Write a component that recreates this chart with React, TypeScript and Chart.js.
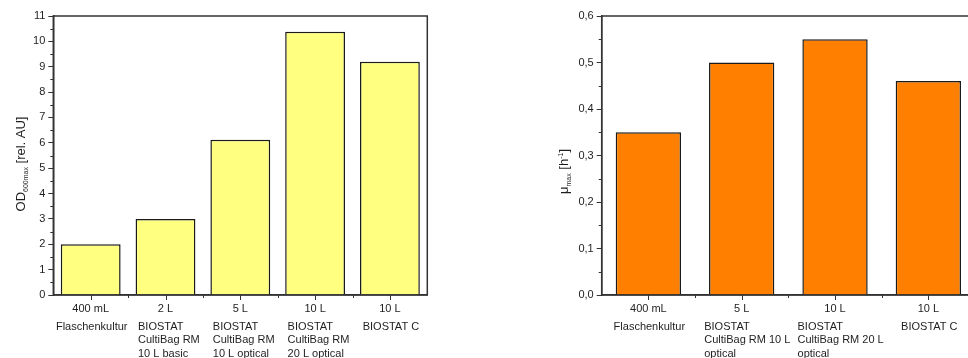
import React, { useEffect, useRef } from "react";
import { Chart, registerables } from "chart.js";

Chart.register(...registerables);

// ---------- data ----------
const leftVolumes = ["400 mL", "2 L", "5 L", "10 L", "10 L"];
const leftSystems = [
  ["Flaschenkultur"],
  ["BIOSTAT", "CultiBag RM", "10 L basic"],
  ["BIOSTAT", "CultiBag RM", "10 L optical"],
  ["BIOSTAT", "CultiBag RM", "20 L optical"],
  ["BIOSTAT C"],
];
const leftOD = [2.0, 3.0, 6.12, 10.38, 9.2];
const leftYMin = 0;
const leftYMax = 11;
const leftYStep = 1;
const leftTitle = [
  { text: "OD", size: 13, shift: 0 },
  { text: "600max", size: 7, shift: 3 },
  { text: " [rel. AU]", size: 13, shift: 0 },
];

const rightVolumes = ["400 mL", "5 L", "10 L", "10 L"];
const rightSystems = [
  ["Flaschenkultur"],
  ["BIOSTAT", "CultiBag RM 10 L", "optical"],
  ["BIOSTAT", "CultiBag RM 20 L", "optical"],
  ["BIOSTAT C"],
];
const rightMu = [0.35, 0.5, 0.55, 0.46];
const rightYMin = 0;
const rightYMax = 0.6;
const rightYStep = 0.1;
const rightTitle = [
  { text: "μ", size: 13, shift: 0 },
  { text: "max", size: 7, shift: 3 },
  { text: " [h", size: 13, shift: 0 },
  { text: "-1", size: 7, shift: -5 },
  { text: "]", size: 13, shift: 0 },
];

// ---------- styles ----------
const FONT = "'Liberation Sans', Arial, sans-serif";
const AXIS = "#333333";
const TEXT = "#1e1e1e";

type Seg = { text: string; size: number; shift: number };

function drawRotatedRich(ctx: CanvasRenderingContext2D, x: number, centerY: number, segs: Seg[]) {
  ctx.save();
  let total = 0;
  for (const s of segs) {
    ctx.font = `${s.size}px ${FONT}`;
    total += ctx.measureText(s.text).width;
  }
  ctx.translate(x, centerY + total / 2);
  ctx.rotate(-Math.PI / 2);
  ctx.textAlign = "left";
  ctx.textBaseline = "alphabetic";
  ctx.fillStyle = TEXT;
  let u = 0;
  for (const s of segs) {
    ctx.font = `${s.size}px ${FONT}`;
    ctx.fillText(s.text, u, s.shift);
    u += ctx.measureText(s.text).width;
  }
  ctx.restore();
}

function makeDecor(opts: {
  volumes: string[];
  systems: string[][];
  minorStep: number;
  yMax: number;
  indent: number;
  title: Seg[];
  titleX: number;
  titleDY: number;
}) {
  return {
    id: "decor",
    afterDraw(chart: any) {
      const { ctx, chartArea: a, scales } = chart;
      const x = scales.x;
      const y = scales.y;
      ctx.save();
      // frame
      ctx.strokeStyle = AXIS;
      ctx.lineWidth = 1.5;
      ctx.strokeRect(a.left, a.top, a.right - a.left, a.bottom - a.top);
      // minor y ticks
      ctx.lineWidth = 1;
      for (let i = 0; (i + 0.5) * opts.minorStep < opts.yMax; i++) {
        const p = Math.round(y.getPixelForValue((i + 0.5) * opts.minorStep)) + 0.5;
        ctx.beginPath();
        ctx.moveTo(a.left - 3, p);
        ctx.lineTo(a.left, p);
        ctx.stroke();
      }
      // x ticks
      const n = opts.volumes.length;
      for (let i = 0; i < n; i++) {
        const cx = Math.round(x.getPixelForValue(i)) + 0.5;
        ctx.beginPath();
        ctx.moveTo(cx, a.bottom);
        ctx.lineTo(cx, a.bottom + 5);
        ctx.stroke();
      }
      for (let i = 1; i < n; i++) {
        const bx = Math.round((x.getPixelForValue(i - 1) + x.getPixelForValue(i)) / 2) + 0.5;
        ctx.beginPath();
        ctx.moveTo(bx, a.bottom);
        ctx.lineTo(bx, a.bottom + 3);
        ctx.stroke();
      }
      // x labels
      ctx.font = `11px ${FONT}`;
      ctx.fillStyle = TEXT;
      ctx.textBaseline = "alphabetic";
      for (let i = 0; i < n; i++) {
        const cx = x.getPixelForValue(i);
        ctx.textAlign = "center";
        ctx.fillText(opts.volumes[i], cx, a.bottom + 17);
        const lines = opts.systems[i];
        if (lines.length === 1) {
          ctx.textAlign = "center";
          ctx.fillText(lines[0], cx + 1, a.bottom + 34.5);
        } else {
          ctx.textAlign = "left";
          lines.forEach((l, k) => ctx.fillText(l, cx - opts.indent, a.bottom + 34.5 + k * 13.5));
        }
      }
      ctx.restore();
      // y title
      drawRotatedRich(ctx, opts.titleX, (a.top + a.bottom) / 2 + opts.titleDY, opts.title);
    },
  };
}

function buildConfig(p: {
  labels: string[];
  values: number[];
  color: string;
  barPct: number;
  yMin: number;
  yMax: number;
  yStep: number;
  yWidth: number;
  padRight: number;
  fmt: (v: number) => string;
  plugin: any;
}) {
  return {
    type: "bar" as const,
    data: {
      labels: p.labels,
      datasets: [
        {
          data: p.values,
          backgroundColor: p.color,
          borderColor: "#1a1a1a",
          borderWidth: 1.5,
          borderSkipped: "bottom",
          barPercentage: p.barPct,
          categoryPercentage: 1,
        },
      ],
    },
    options: {
      animation: false,
      responsive: false,
      devicePixelRatio: 1,
      layout: { padding: { left: 0, right: p.padRight, top: 16, bottom: 0 } },
      plugins: { legend: { display: false }, tooltip: { enabled: false } },
      scales: {
        x: {
          type: "category",
          offset: true,
          grid: { display: false },
          border: { display: true, color: AXIS, width: 1.5 },
          ticks: { display: false },
          afterFit: (s: any) => {
            s.height = 63;
          },
        },
        y: {
          type: "linear",
          min: p.yMin,
          max: p.yMax,
          border: { display: true, color: AXIS, width: 1.5 },
          grid: { drawOnChartArea: false, drawTicks: true, tickLength: 5, tickColor: AXIS, tickWidth: 1 },
          ticks: {
            stepSize: p.yStep,
            padding: 3,
            color: TEXT,
            font: { family: FONT, size: 11 },
            callback: (v: any) => p.fmt(Number(v)),
          },
          afterFit: (s: any) => {
            s.width = p.yWidth;
          },
        },
      },
    },
    plugins: [p.plugin],
  };
}

export default function App() {
  const leftRef = useRef<HTMLCanvasElement | null>(null);
  const rightRef = useRef<HTMLCanvasElement | null>(null);

  useEffect(() => {
    const left = new Chart(
      leftRef.current as HTMLCanvasElement,
      buildConfig({
        labels: leftVolumes,
        values: leftOD,
        color: "#FFFF80",
        barPct: 0.8,
        yMin: leftYMin,
        yMax: leftYMax,
        yStep: leftYStep,
        yWidth: 53.3,
        padRight: 12.7,
        fmt: (v) => String(Math.round(v)),
        plugin: makeDecor({
          volumes: leftVolumes,
          systems: leftSystems,
          minorStep: leftYStep,
          yMax: leftYMax,
          indent: 27.5,
          title: leftTitle,
          titleX: 25,
          titleDY: 8.5,
        }),
      }) as any
    );
    const right = new Chart(
      rightRef.current as HTMLCanvasElement,
      buildConfig({
        labels: rightVolumes,
        values: rightMu,
        color: "#FF8000",
        barPct: 0.7,
        yMin: rightYMin,
        yMax: rightYMax,
        yStep: rightYStep,
        yWidth: 101.7,
        padRight: 25,
        fmt: (v) => v.toFixed(1).replace(".", ","),
        plugin: makeDecor({
          volumes: rightVolumes,
          systems: rightSystems,
          minorStep: rightYStep,
          yMax: rightYMax,
          indent: 37.5,
          title: rightTitle,
          titleX: 68,
          titleDY: 16,
        }),
      }) as any
    );
    return () => {
      left.destroy();
      right.destroy();
    };
  }, []);

  return (
    <div
      style={{
        position: "fixed",
        left: 0,
        top: 0,
        width: 968,
        height: 358,
        overflow: "hidden",
        background: "#ffffff",
      }}
    >
      <canvas
        ref={leftRef}
        width={440}
        height={358}
        style={{ position: "absolute", left: 0, top: 0, width: 440, height: 358 }}
      />
      <canvas
        ref={rightRef}
        width={500}
        height={358}
        style={{ position: "absolute", left: 500, top: 0, width: 500, height: 358 }}
      />
    </div>
  );
}
